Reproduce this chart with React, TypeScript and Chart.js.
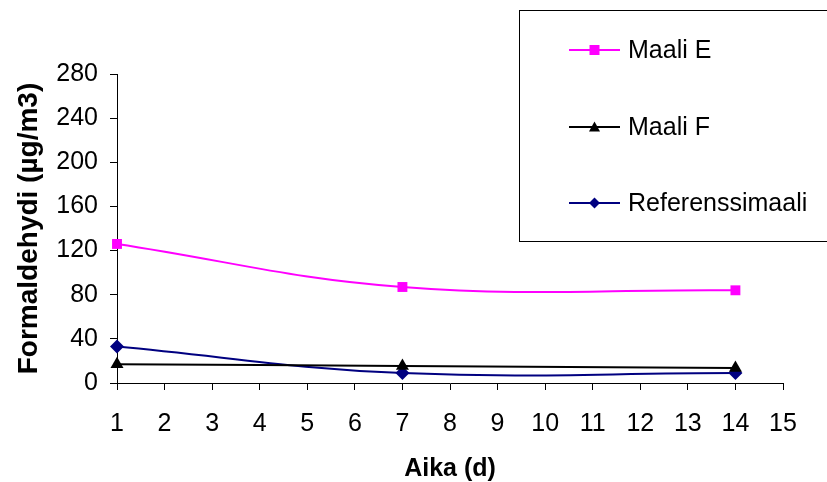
import React, { useEffect, useRef } from 'react';
import { Chart, registerables } from 'chart.js';

Chart.register(...registerables);

const days = [1, 7, 14];
const maaliE = [126, 87, 84];
const maaliF = [17, 15.5, 13.5];
const referenssi = [33, 9, 9];
const seriesNames = ['Maali E', 'Maali F', 'Referenssimaali'];
const seriesColors = ['#FF00FF', '#000000', '#000080'];
const seriesMarkers = ['rect', 'triangle', 'rectRot'];
const xTitle = 'Aika (d)';
const yTitle = 'Formaldehydi (µg/m3)';
const xMin = 1;
const xMax = 15;
const yMin = 0;
const yMax = 280;
const yStep = 40;

const FONT = '"Liberation Sans", Arial, sans-serif';

function drawMarker(ctx: CanvasRenderingContext2D, style: string, x: number, y: number, s: number) {
  ctx.beginPath();
  if (style === 'rect') {
    ctx.rect(x - s / 2, y - s / 2, s, s);
  } else if (style === 'triangle') {
    ctx.moveTo(x, y - s * 0.55);
    ctx.lineTo(x + s * 0.55, y + s * 0.45);
    ctx.lineTo(x - s * 0.55, y + s * 0.45);
    ctx.closePath();
  } else {
    ctx.moveTo(x, y - s * 0.55);
    ctx.lineTo(x + s * 0.55, y);
    ctx.lineTo(x, y + s * 0.55);
    ctx.lineTo(x - s * 0.55, y);
    ctx.closePath();
  }
  ctx.fill();
}

const boxLegend = {
  id: 'boxLegend',
  afterDraw(chart: any) {
    const ctx: CanvasRenderingContext2D = chart.ctx;
    ctx.save();
    ctx.fillStyle = '#ffffff';
    ctx.fillRect(519.5, 10.5, 330, 231);
    ctx.strokeStyle = '#000000';
    ctx.lineWidth = 1;
    ctx.strokeRect(519.5, 10.5, 330, 231);
    const rowY = [50, 127, 203];
    chart.data.datasets.forEach((ds: any, i: number) => {
      const y = rowY[i];
      ctx.strokeStyle = ds.borderColor;
      ctx.lineWidth = 2;
      ctx.beginPath();
      ctx.moveTo(569, y);
      ctx.lineTo(620, y);
      ctx.stroke();
      ctx.fillStyle = ds.borderColor;
      drawMarker(ctx, ds.pointStyle, 594.5, y, 10);
      ctx.fillStyle = '#000000';
      ctx.font = `25px ${FONT}`;
      ctx.textAlign = 'left';
      ctx.textBaseline = 'middle';
      ctx.fillText(ds.label, 628, y + 1);
    });
    ctx.restore();
  },
};

export default function App() {
  const ref = useRef<HTMLCanvasElement>(null);
  useEffect(() => {
    document.body.style.margin = '0';
    const mk = (vals: number[]) => days.map((d, i) => ({ x: d, y: vals[i] }));
    const all = [maaliE, maaliF, referenssi];
    const radii = [7, 7.5, 7];
    const chart = new Chart(ref.current!, {
      type: 'line',
      data: {
        datasets: all.map((vals, i) => ({
          label: seriesNames[i],
          data: mk(vals),
          borderColor: seriesColors[i],
          backgroundColor: seriesColors[i],
          pointBackgroundColor: seriesColors[i],
          pointBorderColor: seriesColors[i],
          pointStyle: seriesMarkers[i] as any,
          pointRadius: radii[i],
          pointBorderWidth: 0,
          borderWidth: 2,
          tension: 0.4,
          fill: false,
          clip: false as any,
        })),
      },
      options: {
        animation: false,
        responsive: false,
        maintainAspectRatio: false,
        layout: { padding: { left: 0, top: 74, right: 44, bottom: 0 } },
        plugins: {
          legend: { display: false },
          tooltip: { enabled: false },
        },
        scales: {
          x: {
            type: 'linear',
            min: xMin,
            max: xMax,
            afterFit: (s: any) => { s.height = 99; },
            ticks: {
              stepSize: 1,
              color: '#000',
              font: { family: FONT, size: 25 },
              padding: 19,
              maxRotation: 0,
              autoSkip: false,
            },
            grid: { drawOnChartArea: false, drawTicks: true, tickLength: 7, color: '#000' },
            border: { color: '#000', width: 1 },
            title: {
              display: true,
              text: xTitle,
              color: '#000',
              font: { family: FONT, size: 25, weight: 'bold', lineHeight: 1.2 },
              padding: { top: 0, bottom: -2 },
            },
          },
          y: {
            min: yMin,
            max: yMax,
            afterFit: (s: any) => { s.width = 117; },
            ticks: {
              stepSize: yStep,
              color: '#000',
              font: { family: FONT, size: 25 },
              padding: 12,
            },
            grid: { drawOnChartArea: false, drawTicks: true, tickLength: 7, color: '#000' },
            border: { color: '#000', width: 1 },
            title: {
              display: true,
              text: yTitle,
              color: '#000',
              font: { family: FONT, size: 28, weight: 'bold', lineHeight: 1.2 },
              padding: { top: 12, bottom: 0 },
            },
          },
        },
      },
      plugins: [boxLegend],
    });
    return () => chart.destroy();
  }, []);
  return (
    <div style={{ position: 'absolute', left: 0, top: 0, width: 827, height: 482 }}>
      <canvas ref={ref} width={827} height={482} style={{ width: 827, height: 482 }} />
    </div>
  );
}
